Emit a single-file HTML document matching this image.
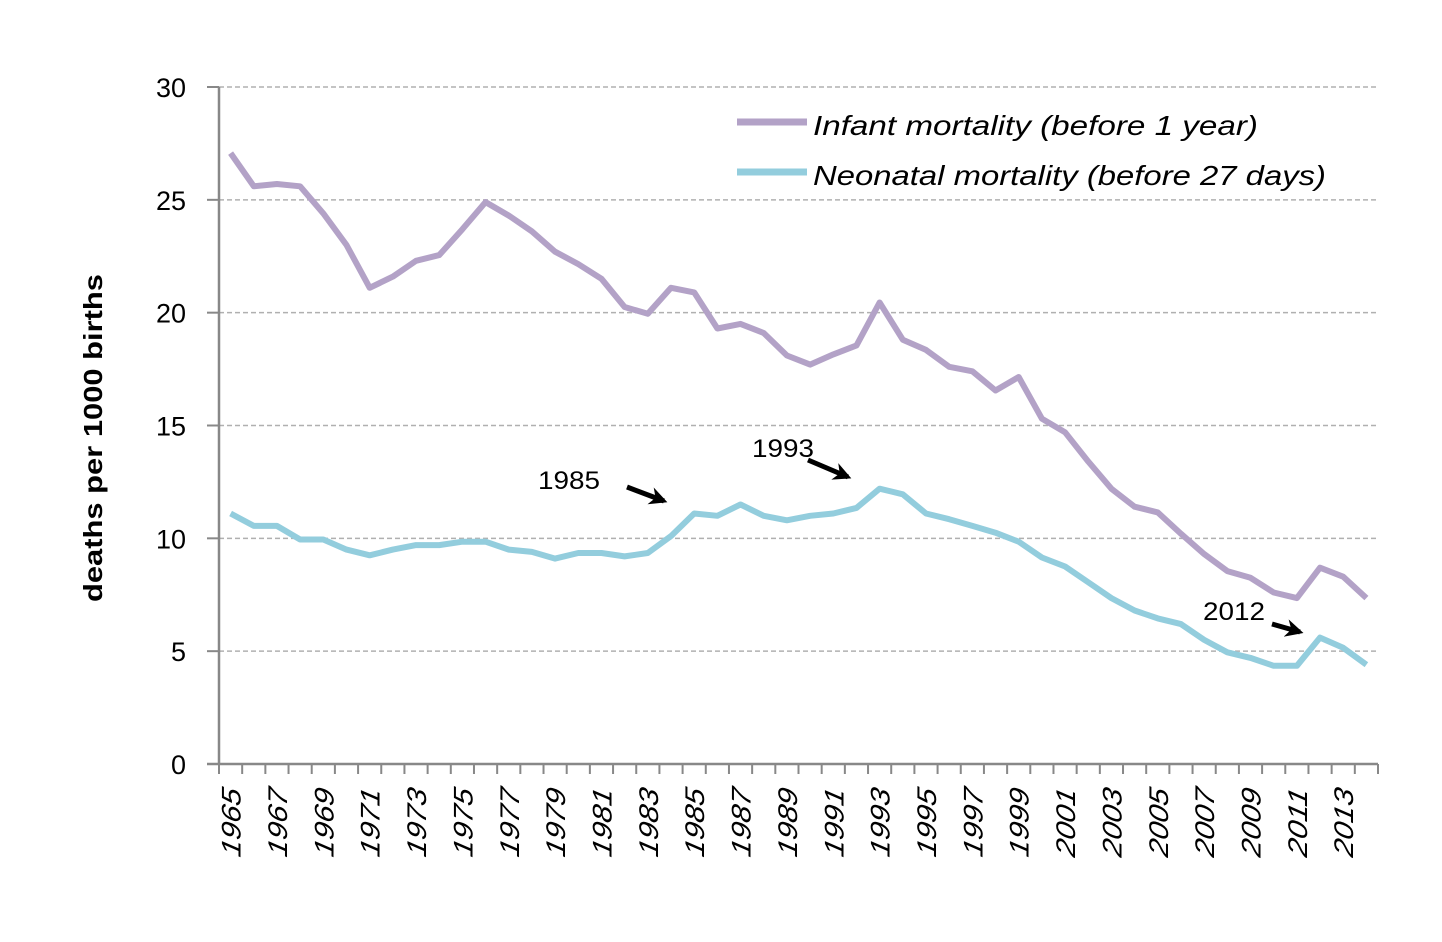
<!DOCTYPE html>
<html><head><meta charset="utf-8"><style>body{margin:0;background:#fff}svg{display:block}text{font-family:"Liberation Sans",sans-serif}</style></head>
<body>
<svg id="chart" width="1442" height="942" xmlns="http://www.w3.org/2000/svg">
<defs><marker id="ah" viewBox="0 0 10 10" refX="8" refY="5" markerWidth="3.6" markerHeight="3.6" orient="auto"><path d="M0,0 L10,5 L0,10 L3,5 Z" fill="#000"/></marker></defs>
<g id="grid"></g>
<g id="axes"></g>
<g id="series"></g>
<text transform="translate(102,438) rotate(-90)" text-anchor="middle" font-size="26" font-weight="bold" textLength="328" lengthAdjust="spacingAndGlyphs">deaths per 1000 births</text>
<g>
<line x1="737" y1="122" x2="807" y2="122" stroke="#b3a2c7" stroke-width="7"/>
<text x="813" y="135" font-size="28" font-style="italic" textLength="445" lengthAdjust="spacingAndGlyphs">Infant mortality (before 1 year)</text>
<line x1="737" y1="172" x2="807" y2="172" stroke="#93cddd" stroke-width="7"/>
<text x="813" y="185" font-size="28" font-style="italic" textLength="513" lengthAdjust="spacingAndGlyphs">Neonatal mortality (before 27 days)</text>
</g>
<g font-size="25">
<text x="538" y="489" textLength="62" lengthAdjust="spacingAndGlyphs">1985</text>
<line x1="627" y1="487" x2="664" y2="501" stroke="#000" stroke-width="5" marker-end="url(#ah)"/>
<text x="752" y="457" textLength="62" lengthAdjust="spacingAndGlyphs">1993</text>
<line x1="808" y1="460" x2="848" y2="477" stroke="#000" stroke-width="5" marker-end="url(#ah)"/>
<text x="1203" y="620" textLength="62" lengthAdjust="spacingAndGlyphs">2012</text>
<line x1="1272" y1="624" x2="1300" y2="632" stroke="#000" stroke-width="5" marker-end="url(#ah)"/>
</g>
</svg>
<script>
const years=[];for(let y=1965;y<=2014;y++)years.push(y);
const infant=[27.07,25.6,25.7,25.6,24.4,23.0,21.1,21.6,22.3,22.55,23.7,24.9,24.3,23.6,22.7,22.15,21.5,20.25,19.95,21.1,20.9,19.3,19.5,19.1,18.1,17.7,18.15,18.55,20.45,18.8,18.35,17.6,17.4,16.55,17.15,15.3,14.7,13.4,12.2,11.4,11.15,10.2,9.3,8.55,8.25,7.6,7.35,8.7,8.3,7.35];
const neonatal=[11.1,10.55,10.55,9.95,9.95,9.5,9.25,9.5,9.7,9.7,9.85,9.85,9.5,9.4,9.1,9.35,9.35,9.2,9.35,10.1,11.1,11.0,11.5,11.0,10.8,11.0,11.1,11.35,12.2,11.95,11.1,10.85,10.55,10.25,9.85,9.15,8.75,8.05,7.35,6.8,6.45,6.2,5.5,4.95,4.7,4.35,4.35,5.6,5.15,4.4];
const yTicks=[0,5,10,15,20,25,30];
const NS="http://www.w3.org/2000/svg";
const X0=219,X1=1378,Y0=764,Y1=87;
const bw=(X1-X0)/years.length;
const xs=i=>X0+bw*(i+0.5);
const ys=v=>Y0-(v/30)*(Y0-Y1);
function mk(tag,attrs,parent){const e=document.createElementNS(NS,tag);for(const k in attrs)e.setAttribute(k,attrs[k]);parent.appendChild(e);return e;}
const grid=document.getElementById('grid'),axes=document.getElementById('axes'),series=document.getElementById('series');
yTicks.forEach(t=>{
  if(t>0){const g=mk('line',{x1:X0,x2:X1,y1:ys(t),y2:ys(t),stroke:'#b0b0b0','stroke-width':1.5,'stroke-dasharray':'5,3'},grid);
  
  }
  const tk=mk('line',{x1:X0-12,x2:X0,y1:ys(t),y2:ys(t),stroke:'#888','stroke-width':2},axes);
  
  
  const l=mk('text',{x:X0-33,y:ys(t)+10,'text-anchor':'end','font-size':27},axes);
  l.textContent=t;
  
  
});
const ya=mk('line',{x1:X0,x2:X0,y1:Y1,y2:Y0,stroke:'#888','stroke-width':2.5},axes);


const xa=mk('line',{x1:X0-12,x2:X1,y1:Y0,y2:Y0,stroke:'#888','stroke-width':2.5},axes);


for(let i=0;i<=years.length;i++){
  const x=X0+bw*i;
  const tk=mk('line',{x1:x,x2:x,y1:Y0,y2:Y0+10,stroke:'#888','stroke-width':2},axes);
  
  
}
years.forEach((y,i)=>{
  if(i%2)return;
  const l=mk('text',{transform:`translate(${xs(i)+10},790) rotate(-90) skewX(-12)`,'text-anchor':'end','font-size':27,'font-style':'italic',textLength:68,lengthAdjust:'spacingAndGlyphs'},axes);
  l.textContent=y;
  
  
});
function line(data,color,name){
  const p=mk('path',{d:data.map((v,i)=>(i?'L':'M')+xs(i).toFixed(1)+','+ys(v).toFixed(1)).join(''),fill:'none',stroke:color,'stroke-width':6,'stroke-linejoin':'round'},series);
  
  
}
line(infant,'#b3a2c7','infant-mortality-line');
line(neonatal,'#93cddd','neonatal-mortality-line');
</script>
</body></html>
